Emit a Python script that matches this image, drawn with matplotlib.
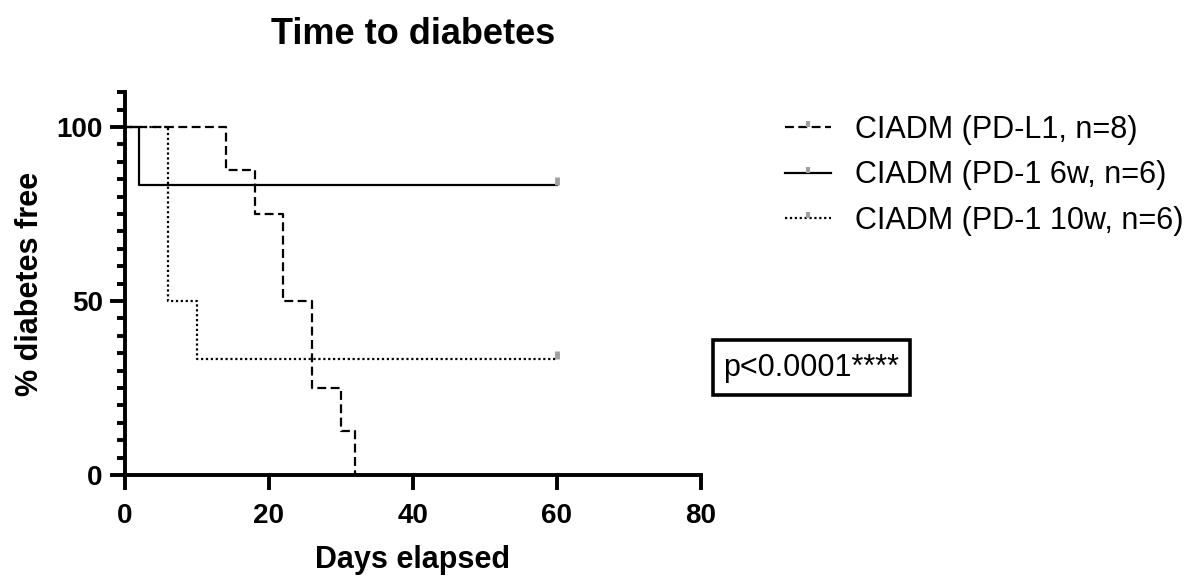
import matplotlib
matplotlib.use("Agg")
import matplotlib.pyplot as plt
from matplotlib.lines import Line2D
from matplotlib.patches import Rectangle
from matplotlib.path import Path
from matplotlib.ticker import MultipleLocator

plt.rcParams['font.family'] = ['Liberation Sans', 'DejaVu Sans']

# Data (Kaplan-Meier steps)
pdl1_t = [0, 14, 18, 22, 26, 30, 32]
pdl1_s = [100, 87.5, 75, 50, 25, 12.5, 0]
pd1_6w_t = [0, 2, 60]
pd1_6w_s = [100, 83.33, 83.33]
pd1_10w_t = [0, 6, 10, 60]
pd1_10w_s = [100, 50, 33.33, 33.33]
censor_6w = ([60], [83.33])
censor_10w = ([60], [33.33])
labels = ["CIADM (PD-L1, n=8)", "CIADM (PD-1 6w, n=6)", "CIADM (PD-1 10w, n=6)"]
xticks = [0, 20, 40, 60, 80]
yticks = [0, 50, 100]

W, H = 1198, 578
fig = plt.figure(figsize=(W / 100, H / 100), dpi=100)
ax = fig.add_axes([0.1043, 0.1782, 0.4808, 0.6623])

cmark = Path([(0, 0), (0, 1)], [Path.MOVETO, Path.LINETO])
ck = dict(marker=cmark, markersize=11, markeredgewidth=3.5, color='#a0a0a0', linestyle='none', clip_on=False, zorder=4)

ax.step(pdl1_t, pdl1_s, where='post', color='black', lw=1.6, linestyle=(0, (4, 2)), clip_on=False, zorder=3)
ax.step(pd1_6w_t, pd1_6w_s, where='post', color='black', lw=1.6, linestyle='-', clip_on=False, zorder=3)
ax.step(pd1_10w_t, pd1_10w_s, where='post', color='black', lw=1.6, linestyle=(0, (1, 1.2)), clip_on=False, zorder=3)
ax.plot(*censor_6w, **ck)
ax.plot(*censor_10w, **ck)

ax.set_xlim(0, 80)
ax.set_ylim(0, 110)
for s in ['top', 'right']:
    ax.spines[s].set_visible(False)
for s in ['left', 'bottom']:
    ax.spines[s].set_linewidth(2.8)
ax.spines['left'].set_zorder(5)
ax.set_xticks(xticks)
ax.set_yticks(yticks)
ax.yaxis.set_minor_locator(MultipleLocator(5))
ax.tick_params(axis='both', which='major', length=11, width=2.8, labelsize=20)
ax.tick_params(axis='x', which='major', pad=9)
ax.tick_params(axis='y', which='major', pad=5)
ax.tick_params(axis='y', which='minor', length=6, width=2.8)
for lab in ax.get_xticklabels() + ax.get_yticklabels():
    lab.set_fontweight('bold')

ax.set_xlabel("Days elapsed", fontsize=22, fontweight='bold', labelpad=12)
ax.set_ylabel("% diabetes free", fontsize=22, fontweight='bold', labelpad=8)
ax.set_title("Time to diabetes", fontsize=26, fontweight='bold', pad=35)

hk = dict(color='black', lw=1.6, marker=cmark, markersize=8, markeredgewidth=3, markeredgecolor='#a0a0a0')
handles = [
    Line2D([0], [0], linestyle=(0, (4, 2)), **hk),
    Line2D([0], [0], linestyle='-', **hk),
    Line2D([0], [0], linestyle=(0, (1, 1.2)), **hk),
]
fig.legend(handles, labels, loc='upper left', bbox_to_anchor=(785 / W, 1 - 115 / H), frameon=False,
           fontsize=22, handlelength=1.5, handletextpad=0.8, labelspacing=0.5, numpoints=1,
           borderaxespad=0, borderpad=0)

fig.add_artist(Rectangle((713 / W, 1 - 395 / H), 197 / W, 55 / H, transform=fig.transFigure,
                         facecolor='white', edgecolor='black', linewidth=2.6))
fig.text(811.5 / W, 1 - 368 / H, "p<0.0001****", fontsize=22, ha='center', va='center')

fig.savefig("out.png", dpi=100)
